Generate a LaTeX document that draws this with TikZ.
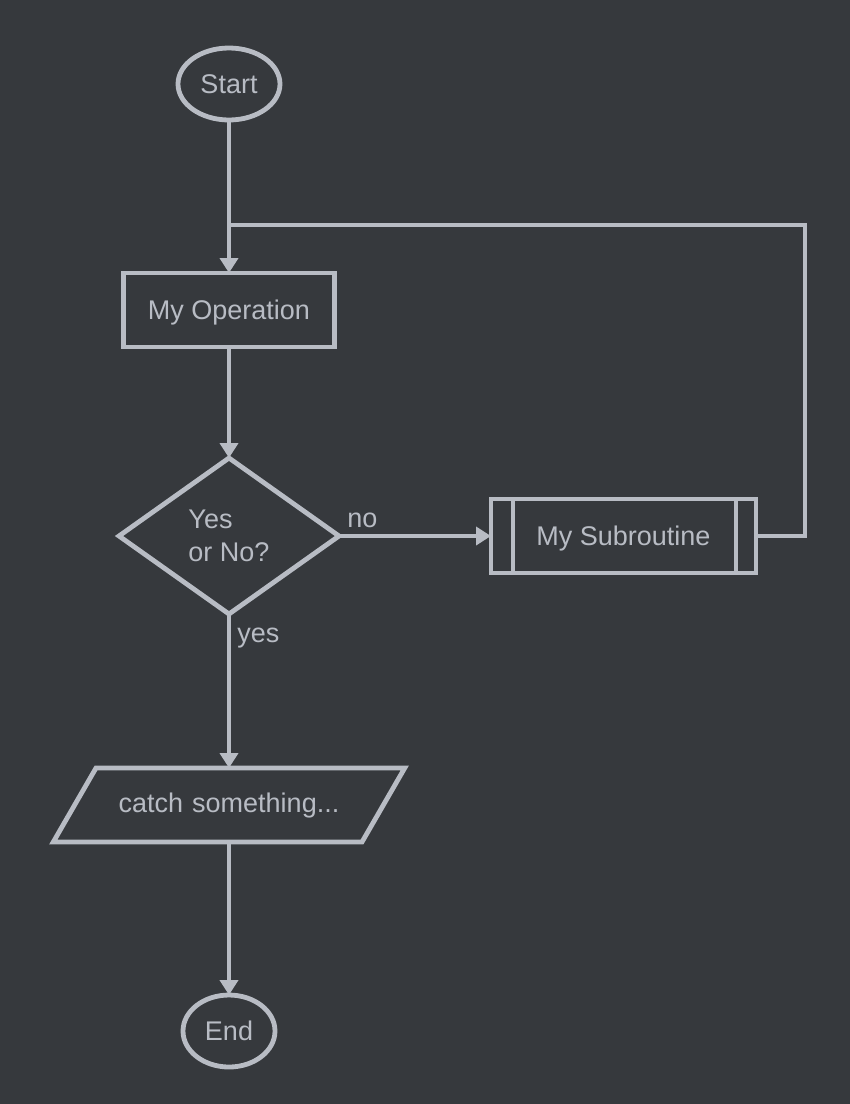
\documentclass[tikz,border=0pt]{standalone}
\usepackage{fontspec}
\setmainfont{Liberation Sans}
\usepackage{xcolor}
\usepackage{tikz}
\usetikzlibrary{arrows.meta, positioning, calc}
\usetikzlibrary{shapes.geometric}
\definecolor{bgdark}{HTML}{36393D}
\definecolor{linegray}{HTML}{B8BCC4}
\tikzstyle{terminal}   = [ellipse, minimum height=72pt, inner sep=0pt, outer sep=0pt, text centered, draw=linegray]
\tikzstyle{process}    = [rectangle, minimum width=211pt, minimum height=74pt, text depth=0pt, outer sep=0pt, text centered, draw=linegray]
\tikzstyle{decision}   = [diamond, aspect=1.41, minimum width=220pt, minimum height=156pt, align=left, draw=linegray, inner sep=1pt, outer sep=0pt]
\tikzstyle{subroutine} = [rectangle, minimum width=265pt, minimum height=74pt, text depth=0pt, outer sep=0pt, text centered, draw=linegray,
  path picture={\draw[linegray, line width=4.5pt]
    ([xshift=22pt]path picture bounding box.north west) -- ([xshift=22pt]path picture bounding box.south west)
    ([xshift=-20pt]path picture bounding box.north east) -- ([xshift=-20pt]path picture bounding box.south east);}]
\tikzstyle{io}         = [trapezium, trapezium left angle=60, trapezium right angle=120,
  text width=226pt, align=center, text height=20pt, text depth=6pt, inner xsep=20pt, inner ysep=24pt,
  outer sep=0pt, draw=linegray]
\tikzstyle{line}       = [draw=linegray, line width=4.8pt]
\tikzstyle{arrow}      = [line, -{Triangle[length=15pt, width=18pt]}]

\begin{document}
\begin{tikzpicture}[line width=4.8pt, text=linegray, font=\fontsize{27}{33}\selectfont]

\useasboundingbox [fill=bgdark] (0pt,0pt) rectangle (850pt,-1104pt);

\node (start) [terminal, minimum width=102pt] at (229pt,-84pt) {Start};
\node (op) [process, below=153pt of start] {My Operation};
\node (check) [decision, below=111pt of op] {Yes\\or No?};
\node (sub) [subroutine, right=152pt of check] {My Subroutine};
\node (catch) [io, below=154pt of check] {catch something...};
\node (end) [terminal, minimum width=92pt, below=153pt of catch] {End};

\coordinate (join) at ($(start.south)!0.686!(op.north)$);

% Main vertical flow
\draw [arrow] (start.south) -- (op.north);
\draw [arrow] (op.south) -- (check.north);
\draw [arrow] (check.south) -- node[pos=0, below right, inner xsep=6pt, inner ysep=12pt]{yes} (catch.north);
\draw [arrow] (catch.south) -- (end.north);

% No-branch and loop back
\draw [arrow] (check.east) -- node[pos=0, above right, inner sep=6pt]{no} (sub.west);
\draw [line] (sub.east) -- ++(49pt,0) |- (join);

\end{tikzpicture}
\end{document}
